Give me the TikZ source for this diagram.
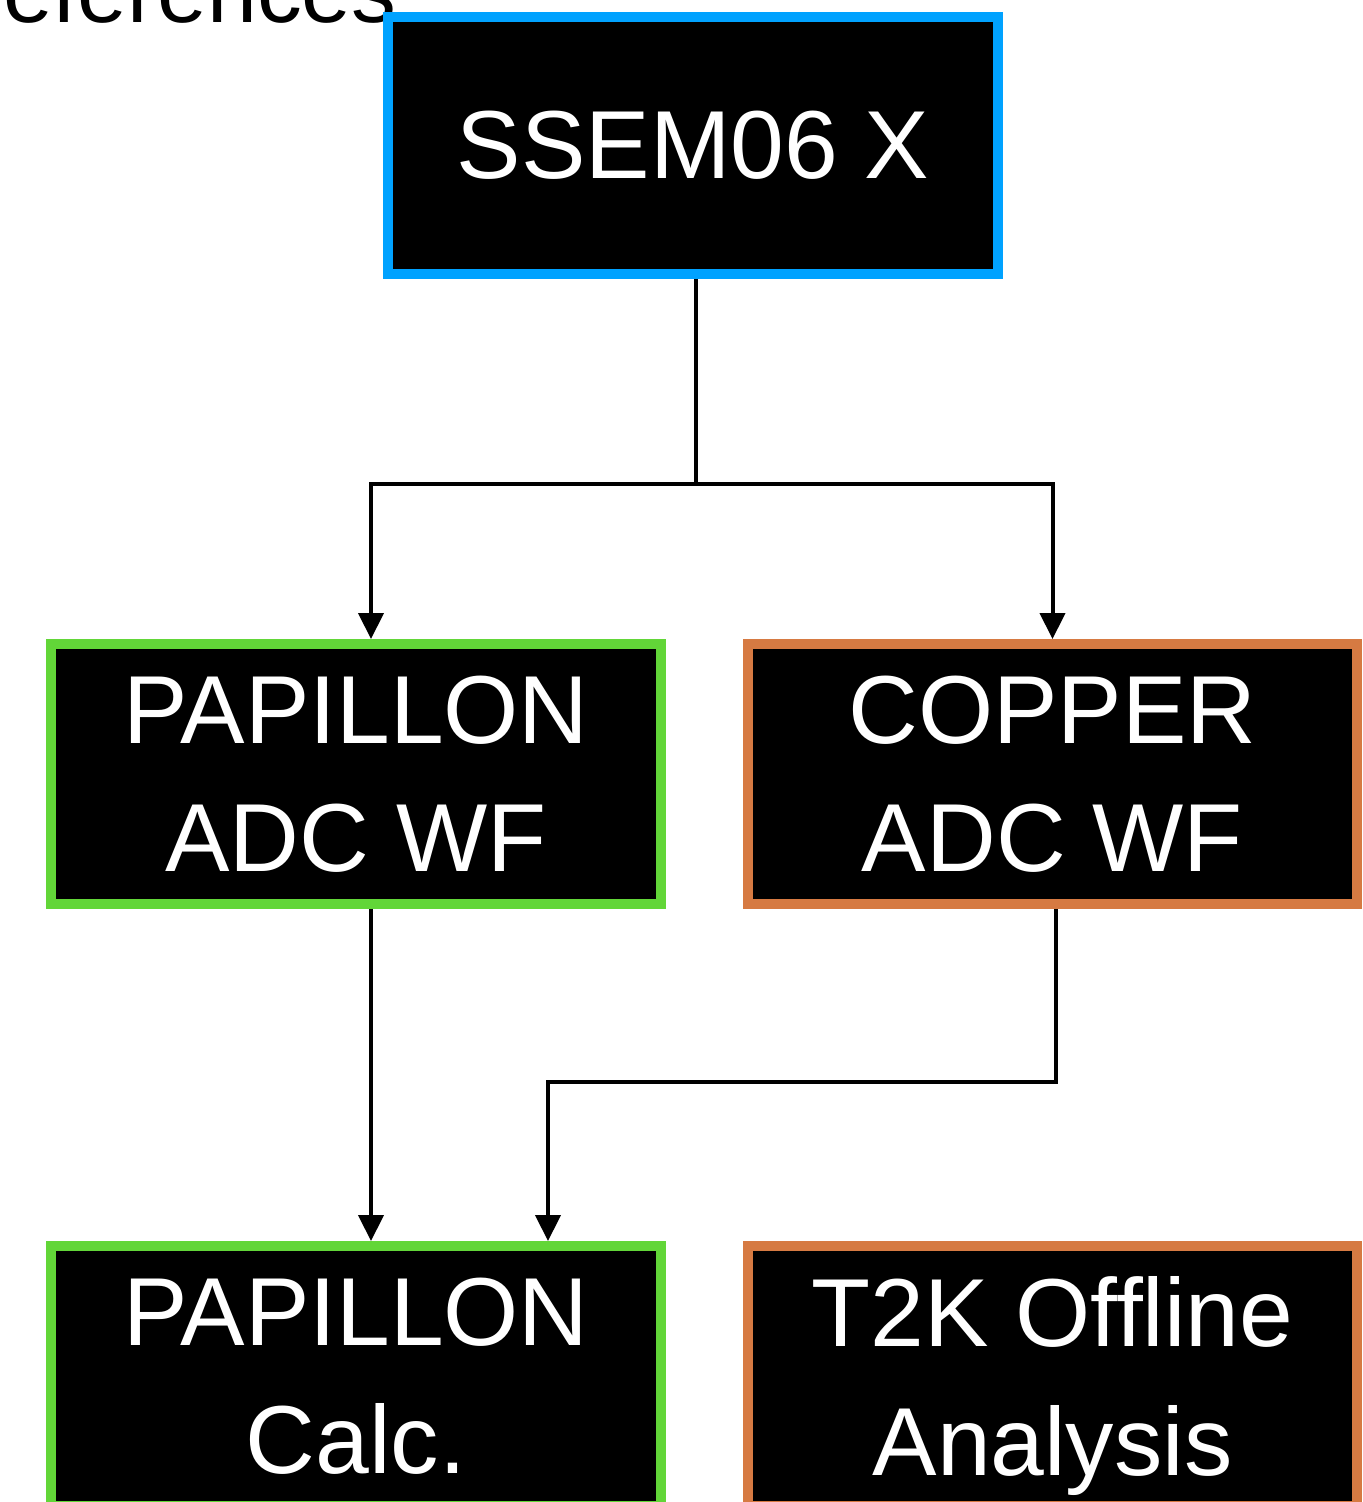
\documentclass[tikz,border=0pt]{standalone}
\usepackage{fontspec}
\setmainfont{Liberation Sans}[Ligatures=NoCommon]
\usepackage{tikz}
\usetikzlibrary{arrows.meta}
\definecolor{boxblue}{RGB}{0,162,255}
\definecolor{boxgreen}{RGB}{98,214,56}
\definecolor{boxorange}{RGB}{214,122,66}
\tikzset{
  blk/.style={draw, fill=black, text=white, line width=0.2cm, align=center,
    minimum width=12.2cm, minimum height=5.2cm,
    font=\fontsize{55}{73}\selectfont},
  conn/.style={line width=0.08cm, -{Triangle[width=0.5cm,length=0.52cm]}},
  wire/.style={line width=0.08cm}
}
\begin{document}
\begin{tikzpicture}[x=0.02cm,y=-0.02cm]
\useasboundingbox (0,0) rectangle (1363,1502);
% Heading cut off by the page
\node[anchor=base east, inner sep=0pt, font=\fontsize{51}{60}\selectfont] (refs) at (397,22) {References};
% Source
\node[blk, draw=boxblue, minimum height=5.14cm] (ssem) at (693,145.5) {SSEM06 X};
% Waveforms
\node[blk, draw=boxgreen] (papadc) at (356,774) {PAPILLON\\ADC WF};
\node[blk, draw=boxorange] (copper) at (1052.5,774) {COPPER\\ADC WF};
% Results
\node[blk, draw=boxgreen] (papcalc) at (356,1376) {PAPILLON\\Calc.};
\node[blk, draw=boxorange] (offline) at (1052.5,1376) {T2K Offline\\\smash{Analysis}};
%
% Connectors
\coordinate (split) at (696,484);
\coordinate (join) at (548,1082);
\draw[wire] (ssem.south -| split) -- (split);
\draw[conn] (split) -| ([xshift=0.3cm]papadc.north);
\draw[conn] (split) -| (copper.north);
\draw[conn] ([xshift=0.3cm]papadc.south) -- ([xshift=0.3cm]papcalc.north);
\draw[conn] ([xshift=0.07cm]copper.south) |- (join) -- (join |- papcalc.north);
\end{tikzpicture}
\end{document}
